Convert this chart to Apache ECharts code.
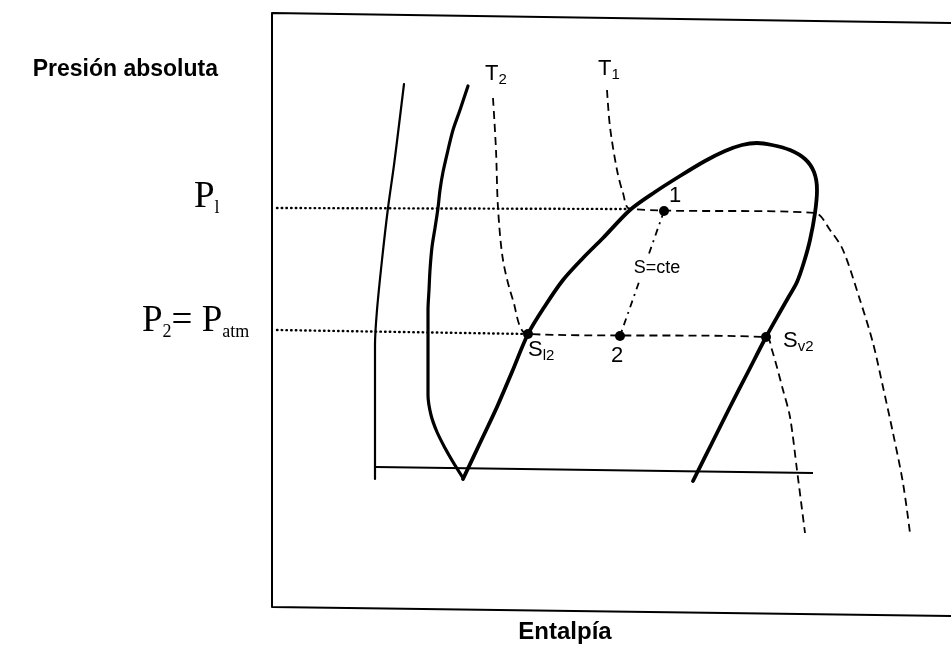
<!DOCTYPE html>
<html>
<head>
<meta charset="utf-8">
<script src="https://cdn.jsdelivr.net/npm/echarts@6/dist/echarts.min.js"></script>
<style>html,body{margin:0;padding:0;background:#fff;}#c{width:951px;height:648px;}</style>
</head>
<body>
<div id="c"></div>
<script>
// Schematic P-h diagram, coordinates in diagram units (enthalpy -> x, pressure -> y, top-down)
const frameLine = [[951,616],[272,607],[272,13],[951,23]];
const baseLine = [[376,467],[813,473]];
const curveA = [[404,84],[399,125],[394,165],[388,208],[382,260],[377,310],[375,345],[375,400],[375,479]];
const curveB = [[468,86],[460,110],[453,130],[448,150],[443,172],[440,190],[438,208],[435,228],[432,247],[430,270],[429,290],[428,310],[428,330],[428,360],[428,395],[431,415],[437,432],[445,448],[453,462],[463,478]];
const dome = [[463,479],[480,443],[497,407],[512,372],[528,334],[545,306],[563,280],[583,258],[603,238],[630,210],[655,192],[680,176],[705,161],[725,151],[742,145],[757,143],[772,145],[790,150],[805,159],[814,172],[817,190],[815,213],[810,240],[804,262],[797,282],[788,298],[780,312],[766,337],[748,372],[730,407],[712,443],[693,481]];
const isoT2 = [[493,98],[496,150],[498,208],[503,260],[513,300],[528,334],[766,337],[772,350],[783,390],[790,417],[797,470],[805,533]];
const isoT1 = [[607,90],[610,127],[617,170],[623,193],[630,209],[815,213],[830,230],[843,250],[860,300],[873,343],[883,387],[893,433],[903,483],[910,533]];
const isobarP1 = [[277,208],[630,209]];
const isobarP2 = [[277,330],[528,334]];
const isentrope = [[664,211],[620,336]];
const statePoints = [[664,211],[620,336],[528,334],[766,337]];

const sans = 'Liberation Sans, Arial, sans-serif';
const serif = 'Liberation Serif, Times New Roman, serif';

const annotations = [
  {pos:[218,70], text:'Presión absoluta', align:'right', style:{fontFamily:sans, fontWeight:'bold', fontSize:23}},
  {pos:[565,632], text:'Entalpía', align:'center', style:{fontFamily:sans, fontWeight:'bold', fontSize:24}},
  {pos:[194,197], text:'{p|P}{s|l}', align:'left', rich:'serif'},
  {pos:[142,321], text:'{p|P}{s|2}{p|= P}{s|atm}', align:'left', rich:'serif'},
  {pos:[485,74], text:'{p|T}{s|2}', align:'left', rich:'sans'},
  {pos:[598,69], text:'{p|T}{s|1}', align:'left', rich:'sans'},
  {pos:[675,196], text:'1', align:'center', style:{fontFamily:sans, fontSize:22}},
  {pos:[617,356], text:'2', align:'center', style:{fontFamily:sans, fontSize:22}},
  {pos:[657,268], text:'S=cte', align:'center', style:{fontFamily:sans, fontSize:18, backgroundColor:'#fff', padding:[2,2]}},
  {pos:[528,350], text:'{p|S}{s|l2}', align:'left', rich:'sans'},
  {pos:[783,341], text:'{p|S}{s|v2}', align:'left', rich:'sans'}
];

const richSerif = {
  p:{fontFamily:serif, fontSize:37, color:'#000', lineHeight:40},
  s:{fontFamily:serif, fontSize:18, color:'#000', lineHeight:25, verticalAlign:'bottom'}
};
const richSans = {
  p:{fontFamily:sans, fontSize:22, color:'#000', lineHeight:26},
  s:{fontFamily:sans, fontSize:15, color:'#000', lineHeight:15, verticalAlign:'bottom'}
};

function lineSeries(data, width, type, extra, cap){
  return Object.assign({
    type:'line', data:data, symbol:'none', silent:true, animation:false,
    smooth:false,
    lineStyle:{color:'#000', width:width, type:type, cap:cap||'butt', join:'round', opacity:1}
  }, extra||{});
}

const series = [
  lineSeries(frameLine, 2, 'solid'),
  lineSeries(baseLine, 2, 'solid'),
  lineSeries(curveA, 2.2, 'solid', {smooth:0.3}, 'round'),
  lineSeries(curveB, 3.2, 'solid', {smooth:0.3}, 'round'),
  lineSeries(dome, 3.8, 'solid', {smooth:0.3}, 'round'),
  lineSeries(isoT2, 1.8, [8,5], {smooth:0.3}),
  lineSeries(isoT1, 1.8, [8,5], {smooth:0.3}),
  lineSeries(isobarP1, 2.4, [0.5,4.2], null, 'round'),
  lineSeries(isobarP2, 2.4, [0.5,4.2], null, 'round'),
  lineSeries(isentrope, 1.8, [7,5,2,5]),
  {type:'scatter', data:statePoints, symbol:'circle', symbolSize:10, itemStyle:{color:'#000', opacity:1}, silent:true, animation:false, z:5},
  {type:'scatter', symbolSize:0, silent:true, animation:false, z:6, itemStyle:{opacity:1},
   data: annotations.map(a => {
     const lbl = {show:true, position:'inside', formatter:a.text, color:'#000', opacity:1, align:a.align, verticalAlign:'middle', textBorderWidth:0};
     if (a.rich) lbl.rich = a.rich === 'serif' ? richSerif : richSans;
     if (a.style) Object.assign(lbl, a.style);
     return {value:a.pos, label:lbl};
   })
  }
];

const chart = echarts.init(document.getElementById('c'), null, {renderer:'canvas'});
chart.setOption({
  backgroundColor:'#fff',
  animation:false,
  grid:{left:0, right:0, top:0, bottom:0},
  xAxis:{type:'value', min:0, max:951, show:false},
  yAxis:{type:'value', min:0, max:648, inverse:true, show:false},
  series: series
});
</script>
</body>
</html>
